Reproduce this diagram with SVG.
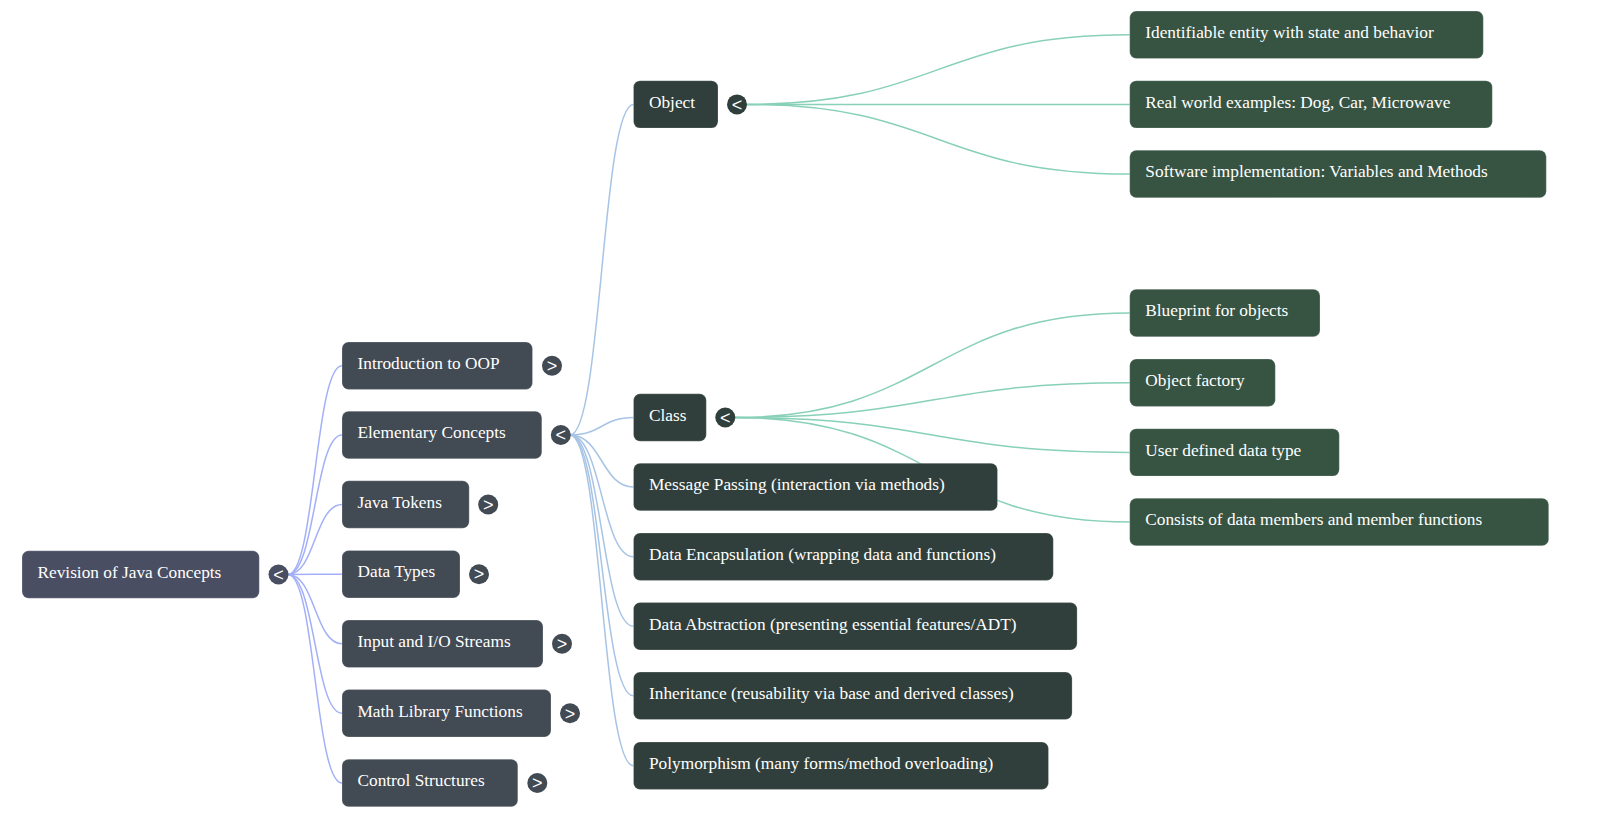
<svg xmlns="http://www.w3.org/2000/svg" width="1600" height="818" viewBox="0 0 1600 818">
<style>
  .box { stroke: #ffffff; stroke-opacity: 0.22; stroke-width: 1; }
  .r { fill: #4a4e62; }
  .l1 { fill: #424a54; }
  .l2 { fill: #303f3b; }
  .l3 { fill: #375443; }
  .lbl { font-family: "Liberation Serif", "Times New Roman", serif; font-size: 17.3px; fill: #ffffff; }
  .tg { font-family: "Liberation Sans", Arial, sans-serif; font-size: 18px; fill: #ffffff; text-anchor: middle; }
  .c0 { fill: none; stroke: #a3b0f7; stroke-width: 1.5; }
  .c1 { fill: none; stroke: #a8c4e5; stroke-width: 1.5; }
  .c2 { fill: none; stroke: #88d0b9; stroke-width: 1.5; }
</style>
<rect width="1600" height="818" fill="#ffffff"/>
<g id="connectors">
  <path class="c0" d="M288 574.5 C315 574.5 315 365.7 342 365.7"/>
  <path class="c0" d="M288 574.5 C315 574.5 315 435 342 435"/>
  <path class="c0" d="M288 574.5 C315 574.5 315 504.5 342 504.5"/>
  <path class="c0" d="M288 574.5 C315 574.5 315 574.2 342 574.2"/>
  <path class="c0" d="M288 574.5 C315 574.5 315 643.8 342 643.8"/>
  <path class="c0" d="M288 574.5 C315 574.5 315 713.3 342 713.3"/>
  <path class="c0" d="M288 574.5 C315 574.5 315 783 342 783"/>
  <path class="c1" d="M570 435 C601.75 435 601.75 104.4 633.5 104.4"/>
  <path class="c1" d="M570 435 C601.75 435 601.75 417.5 633.5 417.5"/>
  <path class="c1" d="M570 435 C601.75 435 601.75 487 633.5 487"/>
  <path class="c1" d="M570 435 C601.75 435 601.75 556.7 633.5 556.7"/>
  <path class="c1" d="M570 435 C601.75 435 601.75 626.3 633.5 626.3"/>
  <path class="c1" d="M570 435 C601.75 435 601.75 695.8 633.5 695.8"/>
  <path class="c1" d="M570 435 C601.75 435 601.75 765.7 633.5 765.7"/>
  <path class="c2" d="M746.5 104.4 C938 104.4 938 34.8 1129.7 34.8"/>
  <path class="c2" d="M746.5 104.4 L1129.7 104.4"/>
  <path class="c2" d="M746.5 104.4 C938 104.4 938 174 1129.7 174"/>
  <path class="c2" d="M735 417.5 C932.35 417.5 932.35 313 1129.7 313"/>
  <path class="c2" d="M735 417.5 C932.35 417.5 932.35 382.7 1129.7 382.7"/>
  <path class="c2" d="M735 417.5 C932.35 417.5 932.35 452.4 1129.7 452.4"/>
  <path class="c2" d="M735 417.5 C932.35 417.5 932.35 522 1129.7 522"/>
</g>
<g id="root">
  <rect class="box r" x="22" y="550.8" width="237.3" height="47.4" rx="6.5"/>
  <text class="lbl" x="37.5" y="577.7">Revision of Java Concepts</text>
  <circle class="r" cx="278.5" cy="574.5" r="10"/>
  <text class="tg" x="278.5" y="580.7">&lt;</text>
</g>
<g id="intro-oop">
  <rect class="box l1" x="342" y="342" width="190.5" height="47.4" rx="6.5"/>
  <text class="lbl" x="357.5" y="368.9">Introduction to OOP</text>
  <circle class="l1" cx="552" cy="365.7" r="10"/>
  <text class="tg" x="552" y="371.9">&gt;</text>
</g>
<g id="elementary">
  <rect class="box l1" x="342" y="411.3" width="199.8" height="47.4" rx="6.5"/>
  <text class="lbl" x="357.5" y="438.2">Elementary Concepts</text>
  <circle class="l1" cx="560.8" cy="435" r="10"/>
  <text class="tg" x="560.8" y="441.2">&lt;</text>
</g>
<g id="java-tokens">
  <rect class="box l1" x="342" y="480.8" width="127.2" height="47.4" rx="6.5"/>
  <text class="lbl" x="357.5" y="507.7">Java Tokens</text>
  <circle class="l1" cx="488.2" cy="504.5" r="10"/>
  <text class="tg" x="488.2" y="510.7">&gt;</text>
</g>
<g id="data-types">
  <rect class="box l1" x="342" y="550.5" width="118" height="47.4" rx="6.5"/>
  <text class="lbl" x="357.5" y="577.4">Data Types</text>
  <circle class="l1" cx="479" cy="574.2" r="10"/>
  <text class="tg" x="479" y="580.4">&gt;</text>
</g>
<g id="input-io">
  <rect class="box l1" x="342" y="620.1" width="201" height="47.4" rx="6.5"/>
  <text class="lbl" x="357.5" y="647">Input and I/O Streams</text>
  <circle class="l1" cx="562" cy="643.8" r="10"/>
  <text class="tg" x="562" y="650">&gt;</text>
</g>
<g id="math-lib">
  <rect class="box l1" x="342" y="689.6" width="209" height="47.4" rx="6.5"/>
  <text class="lbl" x="357.5" y="716.5">Math Library Functions</text>
  <circle class="l1" cx="570" cy="713.3" r="10"/>
  <text class="tg" x="570" y="719.5">&gt;</text>
</g>
<g id="control">
  <rect class="box l1" x="342" y="759.3" width="175.8" height="47.4" rx="6.5"/>
  <text class="lbl" x="357.5" y="786.2">Control Structures</text>
  <circle class="l1" cx="537.3" cy="783" r="10"/>
  <text class="tg" x="537.3" y="789.2">&gt;</text>
</g>
<g id="object">
  <rect class="box l2" x="633.5" y="80.7" width="84.5" height="47.4" rx="6.5"/>
  <text class="lbl" x="649" y="107.6">Object</text>
  <circle class="l2" cx="737" cy="104.4" r="10"/>
  <text class="tg" x="737" y="110.6">&lt;</text>
</g>
<g id="class">
  <rect class="box l2" x="633.5" y="393.8" width="72.8" height="47.4" rx="6.5"/>
  <text class="lbl" x="649" y="420.7">Class</text>
  <circle class="l2" cx="725.3" cy="417.5" r="10"/>
  <text class="tg" x="725.3" y="423.7">&lt;</text>
</g>
<g id="message-passing">
  <rect class="box l2" x="633.5" y="463.3" width="364" height="47.4" rx="6.5"/>
  <text class="lbl" x="649" y="490.2">Message Passing (interaction via methods)</text>
</g>
<g id="encapsulation">
  <rect class="box l2" x="633.5" y="533" width="419.8" height="47.4" rx="6.5"/>
  <text class="lbl" x="649" y="559.9">Data Encapsulation (wrapping data and functions)</text>
</g>
<g id="abstraction">
  <rect class="box l2" x="633.5" y="602.6" width="443.6" height="47.4" rx="6.5"/>
  <text class="lbl" x="649" y="629.5">Data Abstraction (presenting essential features/ADT)</text>
</g>
<g id="inheritance">
  <rect class="box l2" x="633.5" y="672.1" width="438.6" height="47.4" rx="6.5"/>
  <text class="lbl" x="649" y="699">Inheritance (reusability via base and derived classes)</text>
</g>
<g id="polymorphism">
  <rect class="box l2" x="633.5" y="742" width="415" height="47.4" rx="6.5"/>
  <text class="lbl" x="649" y="768.9">Polymorphism (many forms/method overloading)</text>
</g>
<g id="identifiable">
  <rect class="box l3" x="1129.7" y="11.1" width="353.6" height="47.4" rx="6.5"/>
  <text class="lbl" x="1145.3" y="38">Identifiable entity with state and behavior</text>
</g>
<g id="real-world">
  <rect class="box l3" x="1129.7" y="80.7" width="362.6" height="47.4" rx="6.5"/>
  <text class="lbl" x="1145.3" y="107.6">Real world examples: Dog, Car, Microwave</text>
</g>
<g id="software-impl">
  <rect class="box l3" x="1129.7" y="150.3" width="416.6" height="47.4" rx="6.5"/>
  <text class="lbl" x="1145.3" y="177.2">Software implementation: Variables and Methods</text>
</g>
<g id="blueprint">
  <rect class="box l3" x="1129.7" y="289.3" width="190.3" height="47.4" rx="6.5"/>
  <text class="lbl" x="1145.3" y="316.2">Blueprint for objects</text>
</g>
<g id="object-factory">
  <rect class="box l3" x="1129.7" y="359" width="145.6" height="47.4" rx="6.5"/>
  <text class="lbl" x="1145.3" y="385.9">Object factory</text>
</g>
<g id="user-defined">
  <rect class="box l3" x="1129.7" y="428.7" width="209.6" height="47.4" rx="6.5"/>
  <text class="lbl" x="1145.3" y="455.6">User defined data type</text>
</g>
<g id="consists">
  <rect class="box l3" x="1129.7" y="498.3" width="419" height="47.4" rx="6.5"/>
  <text class="lbl" x="1145.3" y="525.2">Consists of data members and member functions</text>
</g>
</svg>
